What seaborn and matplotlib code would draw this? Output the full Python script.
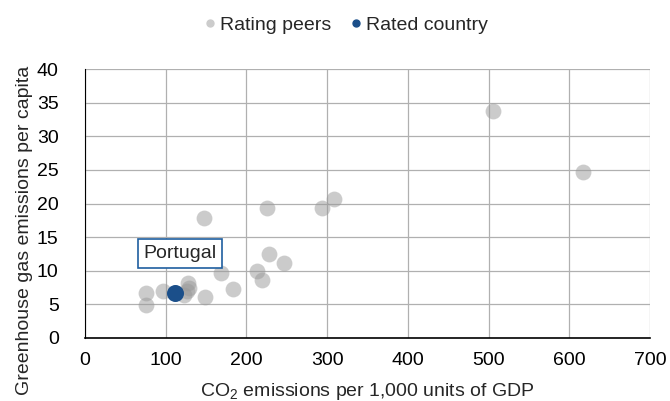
import matplotlib
matplotlib.use("Agg")
import matplotlib.pyplot as plt
import seaborn as sns
import pandas as pd
from matplotlib.lines import Line2D

# Data
peer_x = [226, 147, 293, 309, 228, 247, 213, 169, 219, 183, 128, 129, 126, 122, 97, 76, 76, 149, 505, 617]
peer_y = [19.3, 17.9, 19.3, 20.7, 12.4, 11.1, 10.0, 9.7, 8.6, 7.3, 8.1, 7.4, 6.9, 6.4, 7.0, 6.7, 4.8, 6.1, 33.8, 24.7]
country_name = "Portugal"
country_x = [112]
country_y = [6.7]
x_ticks = [0, 100, 200, 300, 400, 500, 600, 700]
y_ticks = [0, 5, 10, 15, 20, 25, 30, 35, 40]

peer_color = "#cccccc"
country_color = "#1b4f8a"

sns.set_theme(style="white")
plt.rcParams["font.family"] = ["Liberation Sans", "DejaVu Sans"]
plt.rcParams["mathtext.fontset"] = "custom"
plt.rcParams["mathtext.rm"] = "Liberation Sans"
plt.rcParams["mathtext.it"] = "Liberation Sans"

df = pd.DataFrame({
    "x": peer_x + country_x,
    "y": peer_y + country_y,
    "group": ["Rating peers"] * len(peer_x) + ["Rated country"] * len(country_x),
})

fig = plt.figure(figsize=(6.70, 4.01), dpi=100)
ax = fig.add_axes([0.127, 0.158, 0.843, 0.669])

sns.scatterplot(data=df[df.group == "Rating peers"], x="x", y="y", ax=ax,
                color="#999999", alpha=0.5, s=130, linewidth=0, legend=False, zorder=3)
sns.scatterplot(data=df[df.group == "Rated country"], x="x", y="y", ax=ax,
                color=country_color, s=150, linewidth=0, legend=False, zorder=4)

ax.set_xlim(0, 700)
ax.set_ylim(0, 40)
ax.set_xticks(x_ticks)
ax.set_yticks(y_ticks)
ax.tick_params(axis="both", labelsize=14, length=0, colors="#000000")
ax.tick_params(axis="x", pad=10)
ax.tick_params(axis="y", pad=19)
ax.grid(True, color="#b0b0b0", linewidth=0.9)
ax.set_axisbelow(True)
for side in ["top", "right"]:
    ax.spines[side].set_visible(False)
ax.spines["bottom"].set_color("#000000")
ax.spines["bottom"].set_linewidth(1.2)
ax.spines["left"].set_color("#000000")
ax.spines["left"].set_linewidth(0.8)

ax.set_xlabel("CO$_2$ emissions per 1,000 units of GDP", fontsize=14, labelpad=9)
ax.set_ylabel("Greenhouse gas emissions per capita", fontsize=14)
ax.yaxis.set_label_coords(-0.093, 0.40)

ax.annotate(country_name, xy=(country_x[0], country_y[0]), xytext=(117.5, 12.5),
            ha="center", va="center", fontsize=14,
            bbox=dict(boxstyle="square,pad=0.3", fc="white", ec="#1f5fa0", lw=1.2),
            zorder=5)

handles = [
    Line2D([], [], marker="o", linestyle="", color=peer_color, markersize=5, label="Rating peers"),
    Line2D([], [], marker="o", linestyle="", color=country_color, markersize=5, label="Rated country"),
]
fig.legend(handles=handles, loc="center", bbox_to_anchor=(0.515, 0.937), ncol=2, frameon=False,
           fontsize=14, handletextpad=0.1, columnspacing=0.9, handlelength=0.8)

fig.savefig("out.png", dpi=100)
